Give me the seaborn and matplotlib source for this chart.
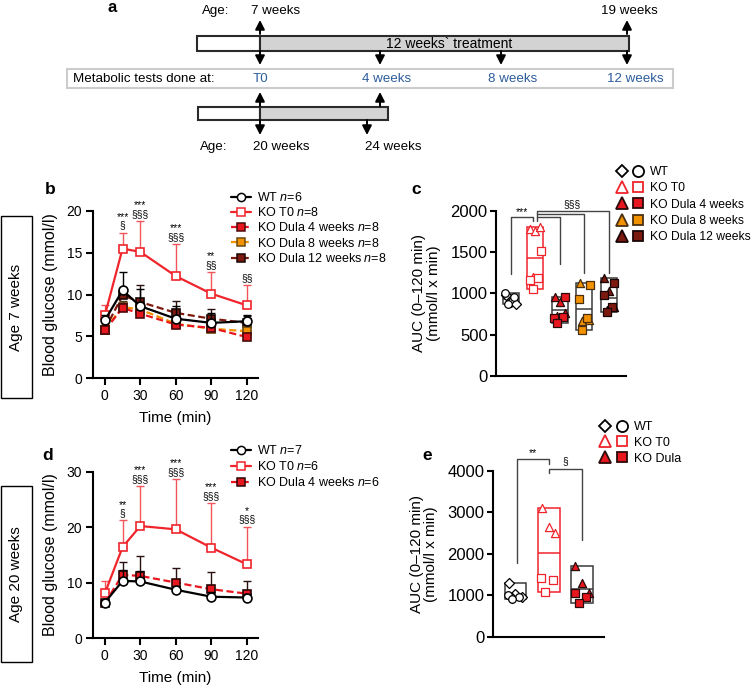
import numpy as np
import matplotlib
matplotlib.use("Agg")
import matplotlib.pyplot as plt
import seaborn as sns
from matplotlib.lines import Line2D
from matplotlib.patches import Rectangle
from matplotlib.legend_handler import HandlerTuple

sns.set_theme(style="ticks")
plt.rcParams['font.family'] = ['Liberation Sans', 'DejaVu Sans']
plt.rcParams['mathtext.fontset'] = 'custom'
plt.rcParams['mathtext.rm'] = 'Liberation Sans'
plt.rcParams['mathtext.it'] = 'Liberation Sans:italic'
for k in ['axes.edgecolor', 'xtick.color', 'ytick.color', 'text.color', 'axes.labelcolor']:
    plt.rcParams[k] = 'black'

# ---------------- data ----------------
# panel a
age_top_labels = ["7 weeks", "19 weeks"]
test_labels = ["T0", "4 weeks", "8 weeks", "12 weeks"]
age_bottom_labels = ["20 weeks", "24 weeks"]
treatment_label = "12 weeks` treatment"

# panel b: OGTT at age 7 weeks (mean and mean+SD)
times = [0, 15, 30, 60, 90, 120]
b_labels = ["WT", "KO T0", "KO Dula 4 weeks", "KO Dula 8 weeks", "KO Dula 12 weeks"]
b_n = [6, 8, 8, 8, 8]
b_wt = [6.9, 10.5, 8.6, 7.1, 6.6, 6.8]
b_wt_top = [7.6, 12.7, 10.6, 8.6, 7.8, 7.6]
b_ko = [7.5, 15.5, 15.1, 12.2, 10.1, 8.7]
b_ko_top = [8.7, 17.4, 18.8, 16.0, 12.7, 11.1]
b_d4 = [5.7, 8.4, 7.7, 6.4, 6.0, 4.9]
b_d4_top = [6.2, 9.0, 8.4, 7.0, 6.6, 5.4]
b_d8 = [5.8, 8.5, 8.2, 6.5, 5.9, 5.6]
b_d8_top = [6.3, 9.2, 8.8, 7.1, 6.5, 6.1]
b_d12 = [5.8, 9.9, 9.1, 7.8, 7.1, 6.6]
b_d12_top = [6.3, 10.6, 11.1, 9.2, 8.3, 7.4]
b_sig = ["", "***\n§", "***\n§§§", "***\n§§§", "**\n§§", "§§"]

# panel c: AUC at age 7 weeks
c_groups = ["WT", "KO T0", "KO Dula 4 weeks", "KO Dula 8 weeks", "KO Dula 12 weeks"]
c_wt_diamond = [985, 890, 870]
c_wt_circle = [1005, 960, 875]
c_ko_tri = [1780, 1750, 1800, 1200]
c_ko_sq = [1510, 1160, 1180, 1050]
c_d4_tri = [950, 900, 760, 720]
c_d4_sq = [960, 700, 710, 640]
c_d8_tri = [1120, 700, 680, 670]
c_d8_sq = [1100, 930, 700, 560]
c_d12_tri = [1180, 1030, 840, 800]
c_d12_sq = [1130, 980, 840, 770]

# panel d: OGTT at age 20 weeks
d_labels = ["WT", "KO T0", "KO Dula 4 weeks"]
d_n = [7, 6, 6]
d_wt = [6.4, 10.3, 10.2, 8.7, 7.45, 7.3]
d_wt_top = [6.9, 12.3, 12.0, 9.3, 8.3, 8.0]
d_ko = [8.05, 16.4, 20.2, 19.6, 16.3, 13.3]
d_ko_top = [10.3, 21.2, 27.4, 28.6, 24.4, 20.1]
d_d4 = [6.3, 11.4, 11.2, 10.0, 8.8, 8.0]
d_d4_top = [6.8, 13.8, 14.8, 12.7, 11.9, 10.2]
d_sig = ["", "**\n§", "***\n§§§", "***\n§§§", "***\n§§§", "*\n§§§"]

# panel e: AUC at age 20 weeks
e_groups = ["WT", "KO T0", "KO Dula"]
e_wt_diamond = [1290, 1040, 970, 940]
e_wt_circle = [1010, 960, 900]
e_ko_tri = [3100, 2650, 2500]
e_ko_sq = [1420, 1380, 1080]
e_d_tri = [1700, 1300, 1050]
e_d_sq = [1050, 950, 820]

# ---------------- colours ----------------
RED = "#e8161e"
KORED = "#f0252c"
ORANGE = "#f39200"
DARKRED = "#7d1a10"
BLUE = "#2b5c9c"
BOXGREY = "#3a3a3a"

W, H = 756, 688
fig = plt.figure(figsize=(W / 100, H / 100), dpi=100)


def px_axes(l, t, r, b):
    return fig.add_axes([l / W, 1 - b / H, (r - l) / W, (b - t) / H])


bg = px_axes(0, 0, W, H)
bg.set_xlim(0, W)
bg.set_ylim(H, 0)
bg.axis('off')


def arrow(x, y0, y1):
    bg.annotate('', xy=(x, y1), xytext=(x, y0),
                arrowprops=dict(arrowstyle='-|>,head_length=0.55,head_width=0.28',
                                color='black', lw=1.4, shrinkA=0, shrinkB=0,
                                mutation_scale=10))


# ---------------- panel a ----------------
bg.text(112, 8, "a", fontsize=12, fontweight='bold', ha='center', va='center')
fs_a = 9.6
bg.text(202, 11, "Age:", fontsize=fs_a, va='center')
bg.text(251, 11, age_top_labels[0], fontsize=fs_a, va='center')
bg.text(601, 11, age_top_labels[1], fontsize=fs_a, va='center')
arrow(260, 34, 20)
arrow(627, 34, 20)
bg.add_patch(Rectangle((197, 36), 63, 15, facecolor='white', edgecolor='#2a2a2a', lw=1.5))
bg.add_patch(Rectangle((260, 36), 369, 15, facecolor='#d3d3d3', edgecolor='#2a2a2a', lw=1.5))
bg.text(449, 44, treatment_label, fontsize=10, ha='center', va='center')
for x in [260, 380, 501, 627]:
    arrow(x, 51, 65)
bg.add_patch(Rectangle((67, 69), 606, 19, facecolor='white', edgecolor='#cccccc', lw=1.5))
bg.text(73, 79, "Metabolic tests done at:", fontsize=fs_a, va='center')
for x, lab in zip([260, 387, 513, 635], test_labels):
    bg.text(x, 79, lab, fontsize=fs_a, color=BLUE, ha='center', va='center')
arrow(260, 106, 92)
arrow(380, 106, 92)
bg.add_patch(Rectangle((198, 107), 62, 13, facecolor='white', edgecolor='#2a2a2a', lw=1.5))
bg.add_patch(Rectangle((260, 107), 128, 13, facecolor='#d3d3d3', edgecolor='#2a2a2a', lw=1.5))
arrow(260, 120, 135)
arrow(367, 120, 135)
bg.text(200, 147, "Age:", fontsize=fs_a, va='center')
bg.text(253, 147, age_bottom_labels[0], fontsize=fs_a, va='center')
bg.text(365, 147, age_bottom_labels[1], fontsize=fs_a, va='center')

# side boxes
bg.add_patch(Rectangle((1, 216), 31, 182, facecolor='none', edgecolor='black', lw=1.0))
bg.text(16.5, 307, "Age 7 weeks", rotation=90, fontsize=11, ha='center', va='center')
bg.add_patch(Rectangle((1, 486), 31, 176, facecolor='none', edgecolor='black', lw=1.0))
bg.text(16.5, 574, "Age 20 weeks", rotation=90, fontsize=11, ha='center', va='center')

# panel letters
for x, y, s in [(50, 190, "b"), (416, 189, "c"), (48, 456, "d"), (427, 455, "e")]:
    bg.text(x, y, s, fontsize=12.5, fontweight='bold', ha='center', va='center')


# ---------------- line panels ----------------
def style_line_axes(ax, ylim, yticks):
    ax.set_xlim(-10, 129.5)
    ax.set_ylim(*ylim)
    ax.set_xticks([0, 30, 60, 90, 120])
    ax.set_yticks(yticks)
    sns.despine(ax=ax)
    for s in ['left', 'bottom']:
        ax.spines[s].set_linewidth(1.5)
    ax.tick_params(axis='both', direction='out', length=5, width=1.5, labelsize=10, pad=3)
    ax.set_ylabel("Blood glucose (mmol/l)", fontsize=11.5)
    ax.yaxis.label.set_verticalalignment('center')
    ax.yaxis.set_label_coords(-0.255, 0.5)
    ax.set_xlabel("Time (min)", fontsize=11)
    ax.xaxis.label.set_verticalalignment('center')
    ax.xaxis.set_label_coords(0.5, -0.24)
    ax.patch.set_alpha(0)


def plot_series(ax, mean, top, line_c, face, edge, marker, ls, err_c, z, ms=6.4):
    sns.lineplot(x=times, y=mean, ax=ax, color=line_c, linestyle=ls, linewidth=1.6,
                 marker=marker, markersize=ms, markerfacecolor=face, markeredgecolor=edge,
                 markeredgewidth=1.2, zorder=z, legend=False)
    up = np.array(top) - np.array(mean)
    ax.errorbar(times, mean, yerr=[np.zeros_like(up), up], fmt='none', ecolor=err_c,
                elinewidth=1.0, capsize=3, capthick=1.0, zorder=z - 0.5)
    return Line2D([], [], color=line_c, linestyle=ls, linewidth=1.6, marker=marker,
                  markersize=ms - 0.5, markerfacecolor=face, markeredgecolor=edge,
                  markeredgewidth=1.1)


DASH = (0, (3.2, 1.6))

# panel b
axb = px_axes(93, 211, 258, 378)
style_line_axes(axb, (0, 20), [0, 5, 10, 15, 20])
hb = []
hb.append(plot_series(axb, b_wt, b_wt_top, 'black', 'white', 'black', 'o', '-', 'black', 10))
hb.append(plot_series(axb, b_ko, b_ko_top, KORED, 'white', KORED, 's', '-', '#f2555b', 9))
hb.append(plot_series(axb, b_d4, b_d4_top, RED, RED, '#4a0a0a', 's', DASH, '#3a1010', 8))
hb.append(plot_series(axb, b_d8, b_d8_top, ORANGE, ORANGE, '#6b4a10', 's', DASH, '#4a3a20', 7))
hb.append(plot_series(axb, b_d12, b_d12_top, DARKRED, DARKRED, '#1a0505', 's', DASH, '#2a1010', 6))
for i, s in enumerate(b_sig):
    if s:
        axb.annotate(s, (times[i], b_ko_top[i]), xytext=(0, 1.5), textcoords='offset points',
                     ha='center', va='bottom', fontsize=7.5, linespacing=0.85,
                     annotation_clip=False)
fig.legend(hb, [f"{g} $n$={n}" for g, n in zip(b_labels, b_n)], loc='upper left',
           bbox_to_anchor=(231 / W, 1 - 191 / H), frameon=False, fontsize=9,
           handlelength=1.6, handletextpad=0.5, labelspacing=0.18, borderpad=0,
           borderaxespad=0)

# panel d
axd = px_axes(93, 471.7, 258, 638)
style_line_axes(axd, (0, 30), [0, 10, 20, 30])
hd = []
hd.append(plot_series(axd, d_wt, d_wt_top, 'black', 'white', 'black', 'o', '-', 'black', 10))
hd.append(plot_series(axd, d_ko, d_ko_top, KORED, 'white', KORED, 's', '-', '#f2555b', 9))
hd.append(plot_series(axd, d_d4, d_d4_top, RED, RED, '#2a0505', 's', DASH, '#2a1010', 8))
for i, s in enumerate(d_sig):
    if s:
        axd.annotate(s, (times[i], d_ko_top[i]), xytext=(0, 1.5), textcoords='offset points',
                     ha='center', va='bottom', fontsize=7.5, linespacing=0.85,
                     annotation_clip=False)
fig.legend(hd, [f"{g} $n$={n}" for g, n in zip(d_labels, d_n)], loc='upper left',
           bbox_to_anchor=(231 / W, 1 - 444 / H), frameon=False, fontsize=9,
           handlelength=1.6, handletextpad=0.5, labelspacing=0.25, borderpad=0,
           borderaxespad=0)


# ---------------- AUC panels ----------------
SPREAD = [-0.2, 0.0, 0.2, -0.1, 0.12, -0.22, 0.22, 0.04]


def style_auc_axes(ax, xlim, ymax, ystep, xlab_frac):
    ax.set_xlim(*xlim)
    ax.set_ylim(0, ymax)
    ax.set_yticks(np.arange(0, ymax + 1, ystep))
    ax.set_xticks([])
    sns.despine(ax=ax)
    for s in ['left', 'bottom']:
        ax.spines[s].set_linewidth(1.5)
    ax.tick_params(axis='y', direction='out', length=4, width=1.5, labelsize=12, pad=2)
    ax.set_ylabel("AUC (0\u2013120 min)\n(mmol/l x min)", fontsize=11, linespacing=1.05)
    ax.yaxis.label.set_verticalalignment('center')
    ax.yaxis.set_label_coords(xlab_frac, 0.5)
    ax.patch.set_alpha(0)


def auc_group(ax, i, first, second, m1, m2, face, edge, boxc, width=0.65, s1=34, s2=28):
    vals = np.array(first + second, dtype=float)
    lo, hi, mu = vals.min(), vals.max(), vals.mean()
    ax.bar(i, hi - lo, bottom=lo, width=width, fill=False, edgecolor=boxc, linewidth=1.1, zorder=2)
    ax.hlines(mu, i - width / 2, i + width / 2, color=boxc, linewidth=1.1, zorder=2)
    off1 = np.array(SPREAD[:len(first)])
    off2 = np.array(SPREAD[3:3 + len(second)] if len(second) <= 5 else SPREAD[:len(second)])
    sns.scatterplot(x=i + off1, y=first, marker=m1, s=s1, color=face, edgecolor=edge,
                    linewidth=0.9, ax=ax, zorder=3, legend=False)
    sns.scatterplot(x=i + off2[::-1], y=second, marker=m2, s=s2, color=face, edgecolor=edge,
                    linewidth=0.9, ax=ax, zorder=3, legend=False)


def bracket(ax, pts, color='#444444'):
    xs, ys = zip(*pts)
    ax.plot(xs, ys, color=color, linewidth=1.0, clip_on=False, zorder=4)


# panel c
axc = px_axes(496, 210.7, 626, 376)
style_auc_axes(axc, (-0.6, 4.69), 2000, 500, -0.535)
auc_group(axc, 0, c_wt_diamond, c_wt_circle, 'D', 'o', 'white', 'black', BOXGREY, s1=26, s2=30)
auc_group(axc, 1, c_ko_tri, c_ko_sq, '^', 's', 'white', KORED, KORED)
auc_group(axc, 2, c_d4_tri, c_d4_sq, '^', 's', RED, '#2a0a0a', BOXGREY)
auc_group(axc, 3, c_d8_tri, c_d8_sq, '^', 's', ORANGE, '#4a3010', BOXGREY)
auc_group(axc, 4, c_d12_tri, c_d12_sq, '^', 's', DARKRED, '#1a0505', BOXGREY)
bracket(axc, [(0, 1240), (0, 1920), (0.92, 1920), (0.92, 1870)])
axc.text(0.45, 1925, "***", fontsize=7.5, ha='center', va='bottom')
bracket(axc, [(1.05, 1870), (1.05, 2000), (4, 2000), (4, 1250)])
bracket(axc, [(1.05, 1960), (3, 1960), (3, 1250)])
bracket(axc, [(1.05, 1920), (2, 1920), (2, 1360)])
axc.text(2.5, 2015, "§§§", fontsize=7.5, ha='center', va='bottom')


def mk(marker, face, edge, ms=7):
    return Line2D([], [], linestyle='none', marker=marker, markersize=ms,
                  markerfacecolor=face, markeredgecolor=edge, markeredgewidth=1.3)


c_handles = [(mk('D', 'white', 'black', 6.5), mk('o', 'white', 'black', 8)),
             (mk('^', 'white', KORED, 8), mk('s', 'white', KORED, 7.5)),
             (mk('^', RED, '#2a0a0a', 8), mk('s', RED, '#2a0a0a', 7.5)),
             (mk('^', ORANGE, '#4a3010', 8), mk('s', ORANGE, '#4a3010', 7.5)),
             (mk('^', DARKRED, '#1a0505', 8), mk('s', DARKRED, '#1a0505', 7.5))]
fig.legend(c_handles, c_groups, handler_map={tuple: HandlerTuple(ndivide=None, pad=0.5)},
           loc='upper left', bbox_to_anchor=(617 / W, 1 - 166 / H), frameon=False,
           fontsize=8.7, handlelength=2.2, handletextpad=0.5, labelspacing=0.36,
           borderpad=0, borderaxespad=0)

# panel e
axe = px_axes(492.7, 471, 604, 636.7)
style_auc_axes(axe, (-0.68, 2.66), 4000, 1000, -0.617)
auc_group(axe, 0, e_wt_diamond, e_wt_circle, 'D', 'o', 'white', 'black', BOXGREY, s1=26, s2=30)
auc_group(axe, 1, e_ko_tri, e_ko_sq, '^', 's', 'white', KORED, KORED)
auc_group(axe, 2, e_d_tri, e_d_sq, '^', 's', RED, '#2a0a0a', BOXGREY)
bracket(axe, [(0.04, 1770), (0.04, 4285), (1.02, 4285), (1.02, 4165)])
axe.text(0.53, 4300, "**", fontsize=7.5, ha='center', va='bottom')
bracket(axe, [(1.02, 3950), (1.02, 4045), (1.99, 4045), (1.99, 2330)])
axe.text(1.5, 4120, "§", fontsize=7.5, ha='center', va='bottom')

e_handles = [(mk('D', 'white', 'black', 6.5), mk('o', 'white', 'black', 8)),
             (mk('^', 'white', KORED, 8), mk('s', 'white', KORED, 7.5)),
             (mk('^', RED, '#2a0a0a', 8), mk('s', RED, '#2a0a0a', 7.5))]
fig.legend(e_handles, e_groups, handler_map={tuple: HandlerTuple(ndivide=None, pad=0.5)},
           loc='upper left', bbox_to_anchor=(600 / W, 1 - 421 / H), frameon=False,
           fontsize=9, handlelength=2.2, handletextpad=0.5, labelspacing=0.3,
           borderpad=0, borderaxespad=0)

fig.savefig("out.png", dpi=100)
